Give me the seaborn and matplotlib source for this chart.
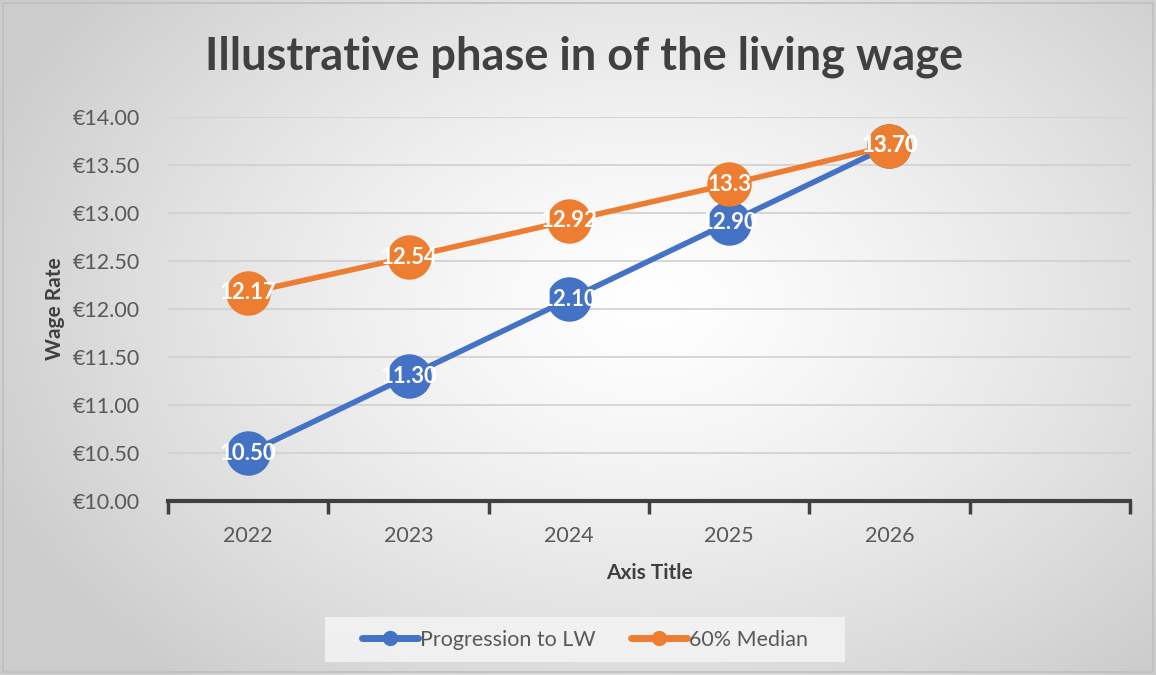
import numpy as np
import pandas as pd
import matplotlib
matplotlib.use("Agg")
import matplotlib.pyplot as plt
from matplotlib.lines import Line2D
from matplotlib.patches import Rectangle
import seaborn as sns

years = ["2022", "2023", "2024", "2025", "2026"]
progression = [10.50, 11.30, 12.10, 12.90, 13.70]
median60 = [12.17, 12.54, 12.92, 13.30, 13.70]
prog_labels = ["10.50", "11.30", "12.10", "12.90", "13.70"]
med_labels = ["12.17", "12.54", "12.92", "13.3", "13.70"]
series_names = ["Progression to LW", "60% Median"]
yticks = [10.0, 10.5, 11.0, 11.5, 12.0, 12.5, 13.0, 13.5, 14.0]

sns.set_theme(style="white")
plt.rcParams['font.family'] = ['Lato', 'DejaVu Sans']

W, H = 1156, 675
fig = plt.figure(figsize=(W / 100, H / 100), dpi=100)

# radial gradient background
bg = fig.add_axes([0, 0, 1, 1], zorder=-10)
yy, xx = np.mgrid[0:H, 0:W]
cx, cy = 0.56 * W, 0.45 * H
r = np.sqrt(((xx - cx) / (0.62 * W)) ** 2 + ((yy - cy) / (0.75 * H)) ** 2)
r = np.clip(r, 0, 1)
val = 1.0 - 0.20 * r ** 1.3
img = np.dstack([val, val, val])
bg.imshow(img, aspect="auto", extent=[0, 1, 0, 1], interpolation="bilinear")
bg.add_patch(Rectangle((0.003, 0.004), 0.994, 0.992, fill=False, edgecolor="#bfbfbf", lw=1.2))
# legend background panel
bg.add_patch(Rectangle((325 / W, 1 - 662 / H), (845 - 325) / W, 45 / H,
                       facecolor="#f4f4f4", edgecolor="none", alpha=0.85))
bg.set_xlim(0, 1)
bg.set_ylim(0, 1)
bg.axis("off")

ax = fig.add_axes([168 / W, 1 - 501 / H, (1130 - 168) / W, (501 - 117) / H])
ax.set_facecolor("none")

df = pd.DataFrame({
    "x": list(range(len(years))) * 2,
    "value": progression + median60,
    "series": [series_names[0]] * len(years) + [series_names[1]] * len(years),
})
palette = {series_names[0]: "#4472C4", series_names[1]: "#ED7D31"}
sns.lineplot(data=df, x="x", y="value", hue="series", palette=palette, ax=ax,
             marker="o", markersize=32, markeredgewidth=0, linewidth=4.0,
             legend=False, sort=False)

for i, (v, t) in enumerate(zip(progression, prog_labels)):
    ax.text(i, v, t, color="white", fontsize=16, fontweight="bold", ha="center", va="center", zorder=5)
for i, (v, t) in enumerate(zip(median60, med_labels)):
    ax.text(i, v, t, color="white", fontsize=16, fontweight="bold", ha="center", va="center", zorder=5)

ax.set_xlim(-0.5, 5.5)
ax.set_ylim(10.0, 14.0)
ax.set_yticks(yticks)
ax.set_yticklabels([f"€{v:.2f}" for v in yticks], fontsize=15.5, color="#595959")
ax.set_xticks(range(len(years)))
ax.set_xticklabels(years, fontsize=15.5, color="#595959")
ax.set_xticks(np.arange(-0.5, 6.0, 1.0), minor=True)
ax.tick_params(axis="x", which="major", length=0, pad=18)
ax.tick_params(axis="x", which="minor", bottom=True, length=9, width=2.5, color="#404040", direction="out")
ax.tick_params(axis="y", length=0, pad=20)
ax.yaxis.grid(True, color="#d0d0d0", linewidth=1.2)
ax.xaxis.grid(False)
for s in ["top", "right", "left"]:
    ax.spines[s].set_visible(False)
ax.spines["bottom"].set_color("#404040")
ax.spines["bottom"].set_linewidth(3)
ax.set_axisbelow(True)

ax.set_xlabel("Axis Title", fontsize=15, fontweight="bold", color="#404040", labelpad=12)
ax.set_ylabel("Wage Rate", fontsize=15, fontweight="bold", color="#404040", labelpad=6)

fig.text(0.505, 1 - 57 / H, "Illustrative phase in of the living wage", ha="center", va="center",
         fontsize=32.5, fontweight="bold", color="#404040")

handles = [Line2D([0], [0], color=palette[n], lw=5, marker="o", markersize=10, solid_capstyle="round")
           for n in series_names]
leg = fig.legend(handles, series_names, loc="center", bbox_to_anchor=(585 / W, 1 - 640 / H),
                 ncol=2, frameon=False, fontsize=15.5, handlelength=2.6, handletextpad=0.1,
                 columnspacing=1.6, borderpad=0.3, borderaxespad=0)
for t in leg.get_texts():
    t.set_color("#595959")

fig.savefig("out.png", dpi=100)
